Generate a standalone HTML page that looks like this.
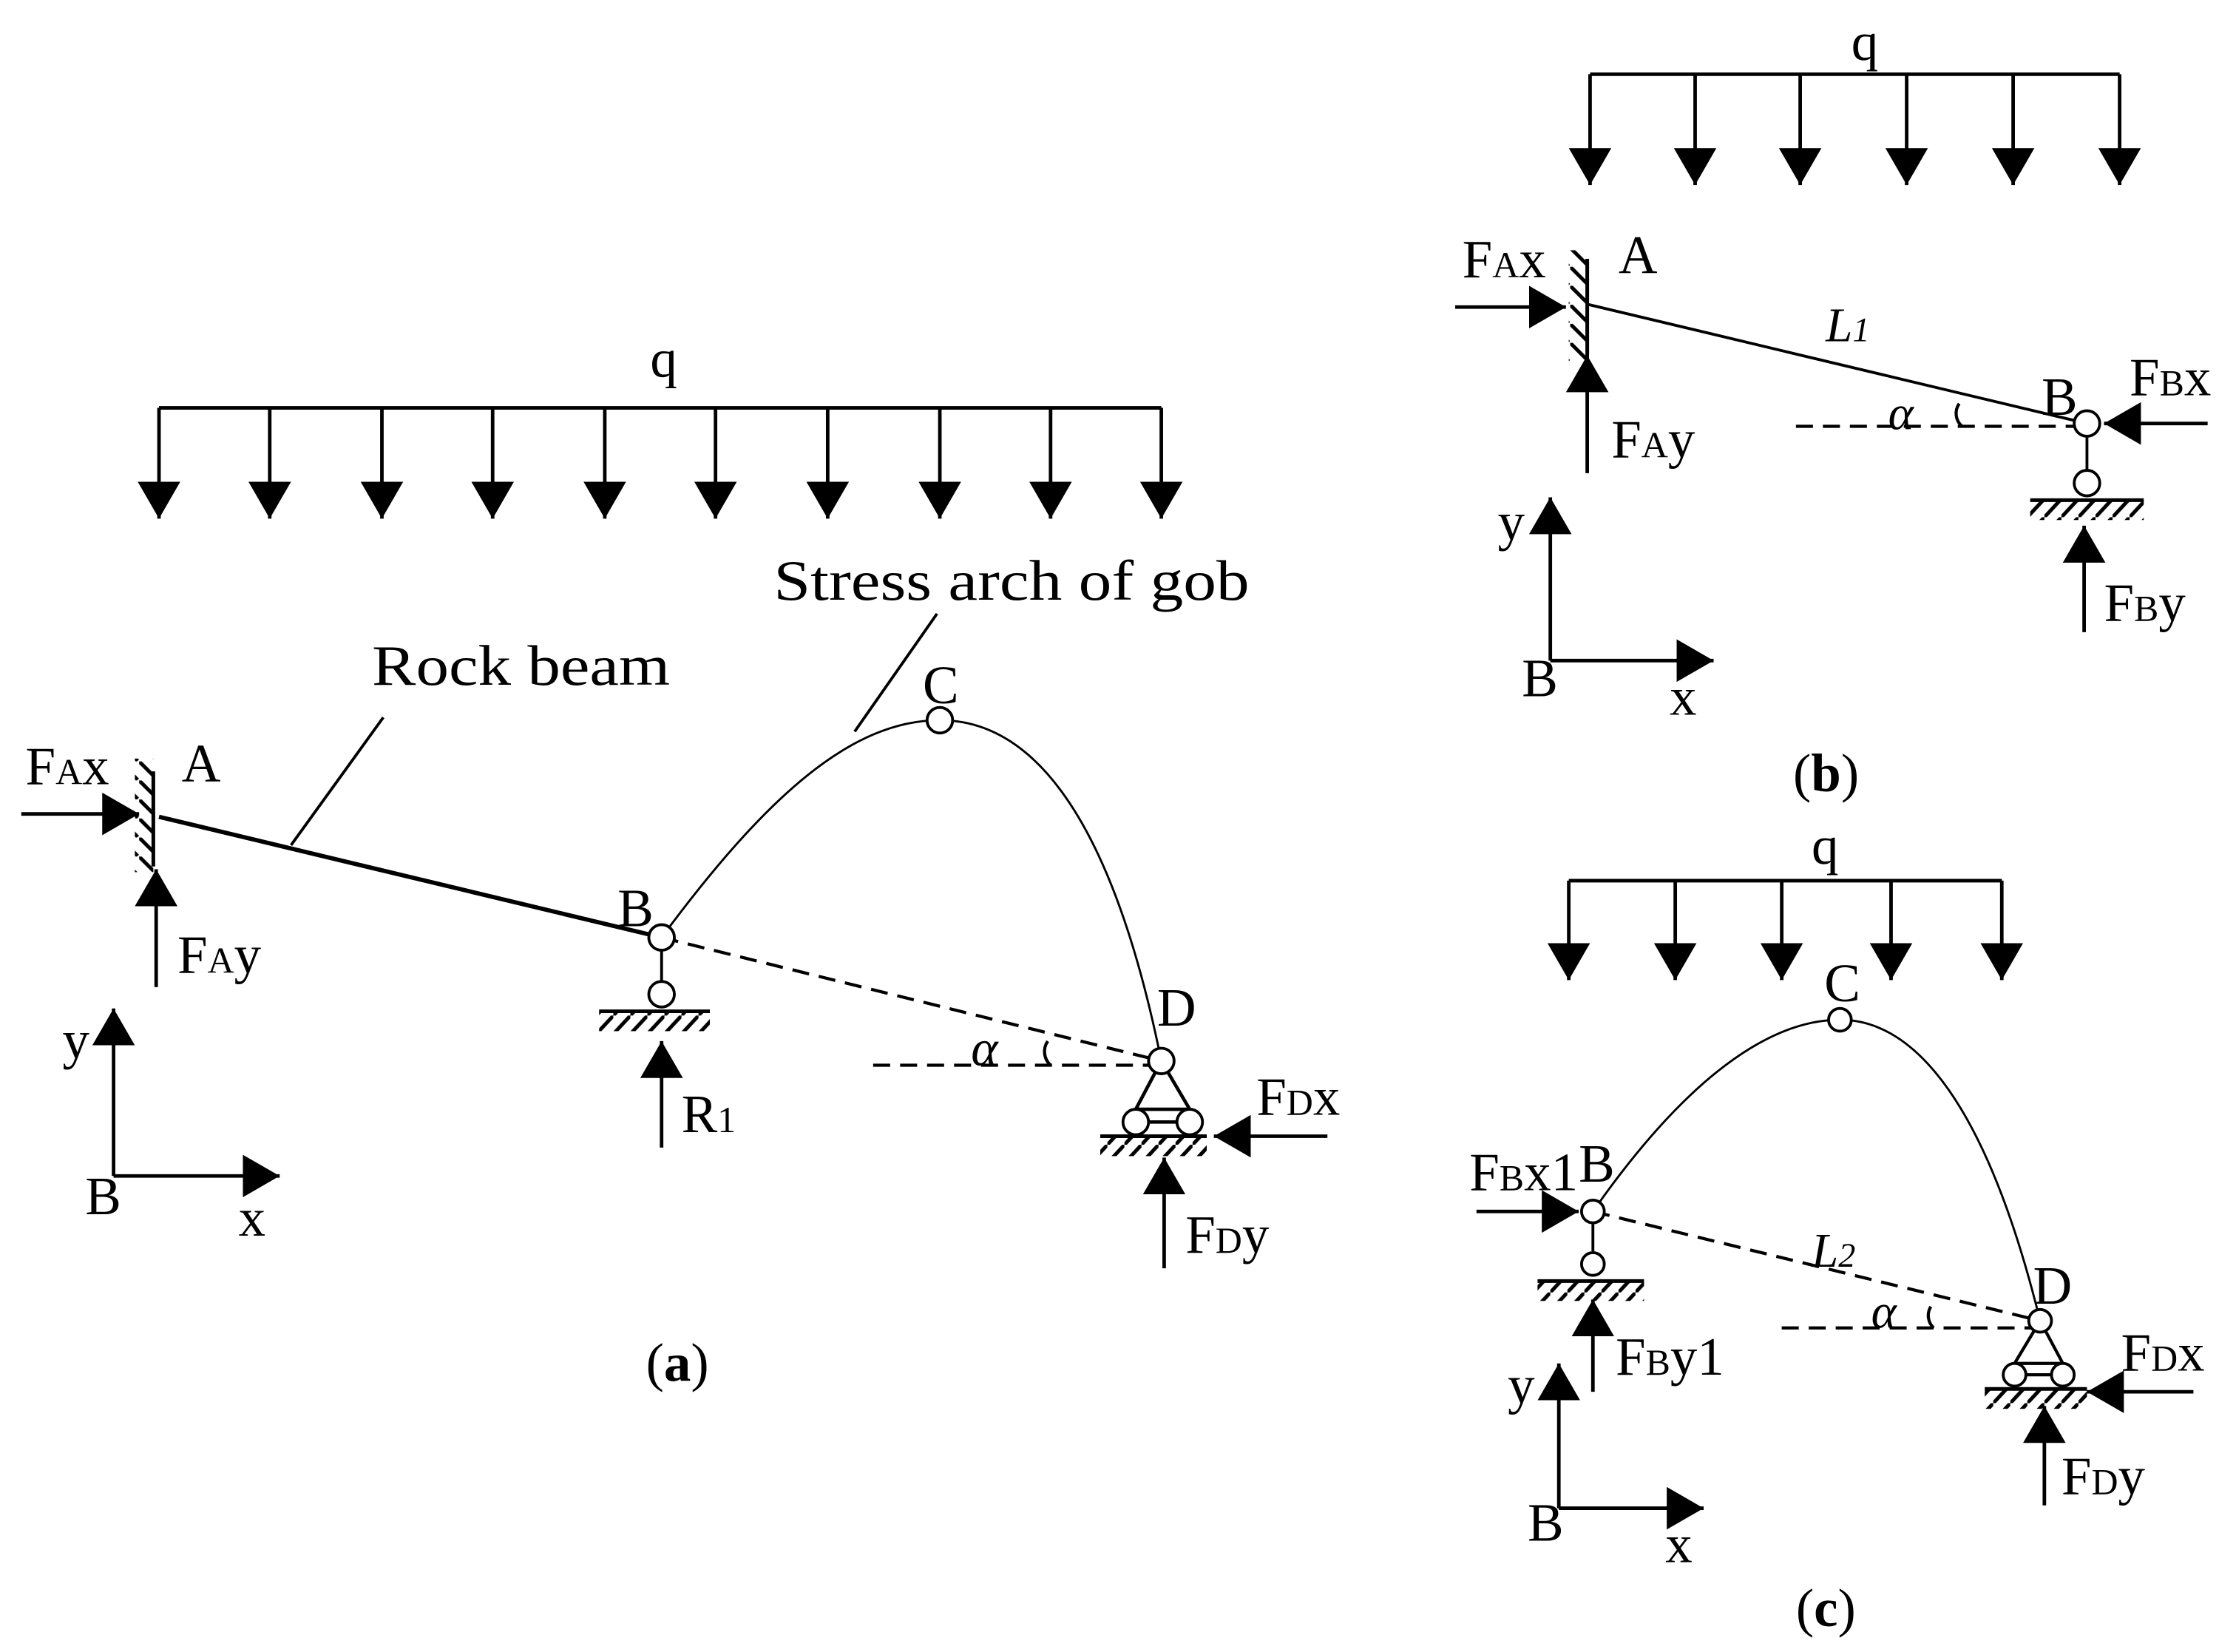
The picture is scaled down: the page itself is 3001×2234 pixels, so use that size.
<!DOCTYPE html>
<html><head><meta charset="utf-8"><style>html,body{margin:0;padding:0;background:#fff}svg{display:block}</style></head><body>
<svg xmlns="http://www.w3.org/2000/svg" width="3001" height="2234" viewBox="0 0 1563 1163" font-family="'Liberation Serif', serif" font-size="38" fill="#000">
<defs>
<marker id="ah" markerUnits="userSpaceOnUse" markerWidth="30" markerHeight="32" refX="26" refY="15" orient="auto"><path d="M0,0 L26,15 L0,30 Z" fill="#000"/></marker>
<pattern id="hat" patternUnits="userSpaceOnUse" width="12" height="13"><line x1="13" y1="-1" x2="0" y2="13" stroke="#000" stroke-width="2.6"/></pattern>
<pattern id="hatw" patternUnits="userSpaceOnUse" width="14" height="13.4"><line x1="0" y1="0" x2="13" y2="13" stroke="#000" stroke-width="2.6"/></pattern>
</defs>
<g stroke="#000" stroke-width="2.5" fill="none">
<!-- (a) load -->
<line x1="112" y1="287" x2="818" y2="287"/>
<g marker-end="url(#ah)">
<line x1="112" y1="287" x2="112" y2="365"/><line x1="190" y1="287" x2="190" y2="365"/><line x1="269" y1="287" x2="269" y2="365"/><line x1="347" y1="287" x2="347" y2="365"/><line x1="426" y1="287" x2="426" y2="365"/><line x1="504" y1="287" x2="504" y2="365"/><line x1="583" y1="287" x2="583" y2="365"/><line x1="662" y1="287" x2="662" y2="365"/><line x1="740" y1="287" x2="740" y2="365"/><line x1="818" y1="287" x2="818" y2="365"/>
<line x1="15" y1="573" x2="98" y2="573"/><line x1="110" y1="695" x2="110" y2="612"/>
<line x1="466" y1="808" x2="466" y2="733"/>
<line x1="935" y1="800" x2="855" y2="800"/><line x1="820" y1="893" x2="820" y2="815"/>
<line x1="80" y1="828" x2="80" y2="710"/><line x1="80" y1="828" x2="197" y2="828"/>
</g>
<line x1="108" y1="543" x2="108" y2="610" stroke-width="2.6"/>
<line x1="112" y1="575" x2="466" y2="660" stroke-width="3"/>
<line x1="270" y1="505" x2="205" y2="595" stroke-width="2"/>
<line x1="660" y1="432" x2="602" y2="515" stroke-width="2"/>
<path d="M466,660 C540,560 600,507 662,507 C720,507 780,560 818,747" stroke-width="1.5"/>
<line x1="466" y1="660" x2="818" y2="747" stroke-dasharray="12,7" stroke-width="2.2"/>
<line x1="615" y1="750" x2="815" y2="750" stroke-dasharray="12,7" stroke-width="2.2"/>
<path d="M738,733 A13,13 0 0 0 740,750" stroke-width="2.2"/>
<line x1="466" y1="669" x2="466" y2="691" stroke-width="2"/>
<line x1="422" y1="712" x2="500" y2="712" stroke-width="2.6"/>
<path d="M818,747 L800,781 L838,781 Z" stroke-width="2.4"/>
<line x1="808" y1="790" x2="830" y2="790" stroke-width="2.4"/>
<line x1="775" y1="800" x2="850" y2="800" stroke-width="2.6"/>
<!-- (b) -->
<line x1="1120" y1="52" x2="1493" y2="52"/>
<g marker-end="url(#ah)">
<line x1="1120" y1="52" x2="1120" y2="130"/><line x1="1194" y1="52" x2="1194" y2="130"/><line x1="1268" y1="52" x2="1268" y2="130"/><line x1="1343" y1="52" x2="1343" y2="130"/><line x1="1418" y1="52" x2="1418" y2="130"/><line x1="1493" y1="52" x2="1493" y2="130"/>
<line x1="1025" y1="216" x2="1103" y2="216"/><line x1="1118" y1="333" x2="1118" y2="250"/>
<line x1="1555" y1="298" x2="1482" y2="298"/><line x1="1468" y1="445" x2="1468" y2="370"/>
<line x1="1092" y1="465" x2="1092" y2="350"/><line x1="1092" y1="465" x2="1207" y2="465"/>
</g>
<line x1="1118" y1="182" x2="1118" y2="250" stroke-width="2.6"/>
<line x1="1118" y1="214" x2="1470" y2="298" stroke-width="2"/>
<line x1="1265" y1="300" x2="1462" y2="300" stroke-dasharray="12,7" stroke-width="2.2"/>
<path d="M1380,284 A12,12 0 0 0 1382,300" stroke-width="2.2"/>
<line x1="1470" y1="307" x2="1470" y2="331" stroke-width="2"/>
<line x1="1430" y1="352" x2="1510" y2="352" stroke-width="2.6"/>
<!-- (c) -->
<line x1="1105" y1="620" x2="1410" y2="620"/>
<g marker-end="url(#ah)">
<line x1="1105" y1="620" x2="1105" y2="690"/><line x1="1180" y1="620" x2="1180" y2="690"/><line x1="1255" y1="620" x2="1255" y2="690"/><line x1="1332" y1="620" x2="1332" y2="690"/><line x1="1410" y1="620" x2="1410" y2="690"/>
<line x1="1040" y1="853" x2="1112" y2="853"/><line x1="1122" y1="980" x2="1122" y2="915"/>
<line x1="1545" y1="980" x2="1470" y2="980"/><line x1="1440" y1="1060" x2="1440" y2="990"/>
<line x1="1098" y1="1062" x2="1098" y2="960"/><line x1="1098" y1="1062" x2="1200" y2="1062"/>
</g>
<path d="M1122,853 C1180,770 1240,718 1296,718 C1350,718 1400,780 1437,930" stroke-width="1.5"/>
<line x1="1122" y1="853" x2="1437" y2="930" stroke-dasharray="12,7" stroke-width="2.2"/>
<line x1="1255" y1="935" x2="1432" y2="935" stroke-dasharray="12,7" stroke-width="2.2"/>
<path d="M1360,920 A12,12 0 0 0 1362,935" stroke-width="2.2"/>
<line x1="1122" y1="862" x2="1122" y2="881" stroke-width="2"/>
<line x1="1083" y1="902" x2="1158" y2="902" stroke-width="2.6"/>
<path d="M1437,930 L1419,960 L1453,960 Z" stroke-width="2.2"/>
<line x1="1426" y1="968" x2="1446" y2="968" stroke-width="2.2"/>
<line x1="1398" y1="978" x2="1470" y2="978" stroke-width="2.6"/>
</g>
<g stroke="none">
<rect x="95" y="534" width="13" height="80" fill="url(#hatw)"/>
<rect x="422" y="713" width="78" height="13" fill="url(#hat)"/>
<rect x="775" y="801" width="75" height="13" fill="url(#hat)"/>
<rect x="1105" y="176" width="13" height="78" fill="url(#hatw)"/>
<rect x="1430" y="353" width="80" height="13" fill="url(#hat)"/>
<rect x="1083" y="903" width="75" height="13" fill="url(#hat)"/>
<rect x="1398" y="979" width="72" height="13" fill="url(#hat)"/>
</g>
<g fill="#fff" stroke="#000" stroke-width="2">
<circle cx="662" cy="507" r="9"/><circle cx="466" cy="660" r="9"/><circle cx="466" cy="700" r="9"/><circle cx="818" cy="747" r="9"/><circle cx="800" cy="790" r="9"/><circle cx="838" cy="790" r="9"/>
<circle cx="1470" cy="298" r="9"/><circle cx="1470" cy="340" r="9"/>
<circle cx="1296" cy="718" r="8"/><circle cx="1122" cy="853" r="8"/><circle cx="1122" cy="890" r="8"/><circle cx="1437" cy="930" r="8"/><circle cx="1419" cy="968" r="8"/><circle cx="1453" cy="968" r="8"/>
</g>
<!-- texts (a) -->
<text x="458" y="265">q</text>
<text x="545" y="422" font-size="40" textLength="335" lengthAdjust="spacingAndGlyphs">Stress arch of gob</text>
<text x="262" y="482" font-size="40" textLength="210" lengthAdjust="spacingAndGlyphs">Rock beam</text>
<text x="650" y="495">C</text>
<text x="18" y="552">F<tspan font-size="26">A</tspan>x</text>
<text x="128" y="550">A</text>
<text x="125" y="685">F<tspan font-size="26">A</tspan>y</text>
<text x="435" y="652">B</text>
<text x="480" y="797">R<tspan font-size="26">1</tspan></text>
<text x="815" y="722">D</text>
<text x="684" y="750" font-style="italic" font-size="36">α</text>
<text x="885" y="785">F<tspan font-size="26">D</tspan>x</text>
<text x="835" y="882">F<tspan font-size="26">D</tspan>y</text>
<text x="44" y="745">y</text>
<text x="60" y="855">B</text>
<text x="168" y="870">x</text>
<text x="455" y="972">(<tspan font-weight="bold">a</tspan>)</text>
<!-- (b) -->
<text x="1304" y="42">q</text>
<text x="1030" y="195">F<tspan font-size="26">A</tspan>x</text>
<text x="1140" y="192">A</text>
<text x="1135" y="322">F<tspan font-size="26">A</tspan>y</text>
<text x="1286" y="240" font-style="italic" font-size="34">L<tspan font-size="24">1</tspan></text>
<text x="1330" y="302" font-style="italic" font-size="34">α</text>
<text x="1438" y="292">B</text>
<text x="1500" y="278">F<tspan font-size="26">B</tspan>x</text>
<text x="1482" y="437">F<tspan font-size="26">B</tspan>y</text>
<text x="1055" y="380">y</text>
<text x="1072" y="490">B</text>
<text x="1176" y="503">x</text>
<text x="1263" y="557">(<tspan font-weight="bold">b</tspan>)</text>
<!-- (c) -->
<text x="1276" y="608">q</text>
<text x="1285" y="705">C</text>
<text x="1035" y="838">F<tspan font-size="26">B</tspan>x1</text>
<text x="1112" y="832">B</text>
<text x="1276" y="892" font-style="italic" font-size="34">L<tspan font-size="24">2</tspan></text>
<text x="1318" y="935" font-style="italic" font-size="34">α</text>
<text x="1432" y="918">D</text>
<text x="1138" y="968">F<tspan font-size="26">B</tspan>y1</text>
<text x="1494" y="965">F<tspan font-size="26">D</tspan>x</text>
<text x="1452" y="1052">F<tspan font-size="26">D</tspan>y</text>
<text x="1062" y="988">y</text>
<text x="1076" y="1085">B</text>
<text x="1173" y="1100">x</text>
<text x="1265" y="1145">(<tspan font-weight="bold">c</tspan>)</text>
</svg>
</body></html>
